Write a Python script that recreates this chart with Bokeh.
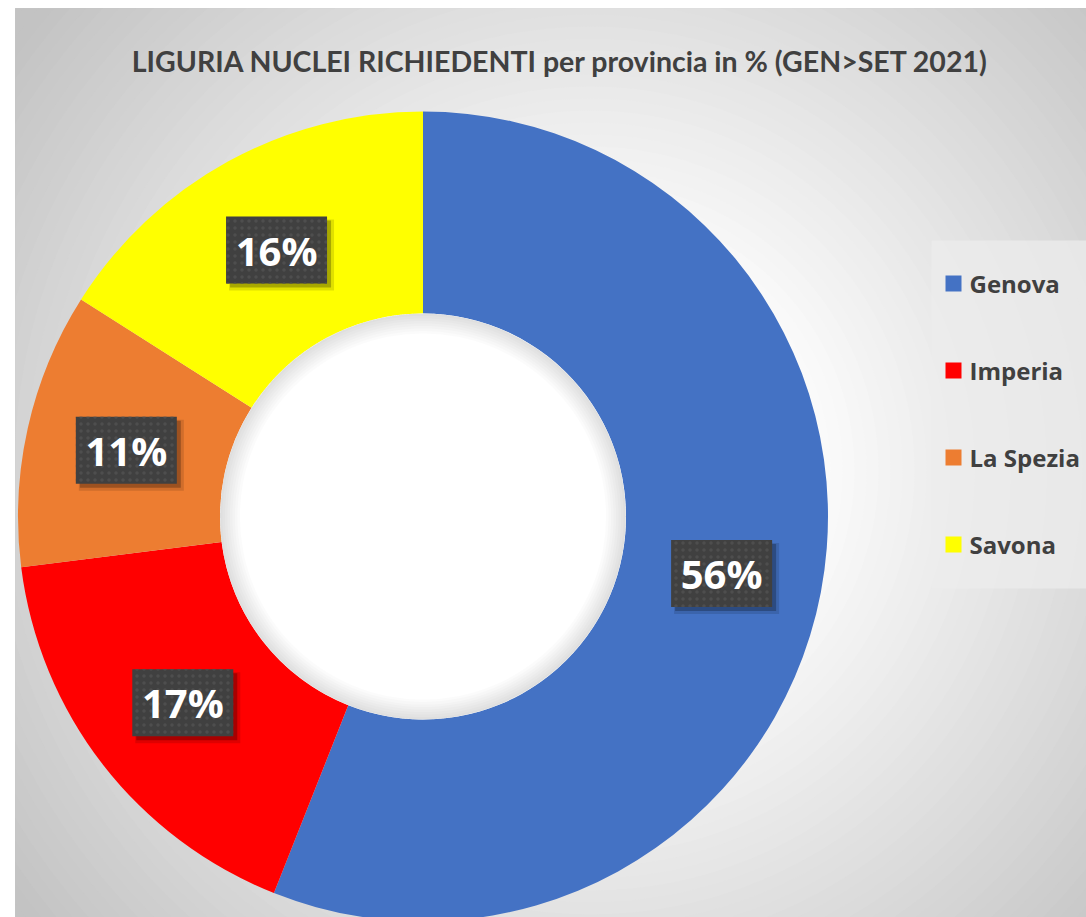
import numpy as np
from bokeh.plotting import figure
from bokeh.models import Range1d
from bokeh.core.properties import value
from bokeh.embed import file_html
from bokeh.resources import INLINE

# ---- data ----
provinces = ["Genova", "Imperia", "La Spezia", "Savona"]
percent = [56, 17, 11, 16]
colors = ["#4472C4", "#FF0000", "#ED7D31", "#FFFF00"]
title_text = "LIGURIA NUCLEI RICHIEDENTI per provincia in % (GEN>SET 2021)"

# ---- figure (1 data unit = 1 screen pixel, y = -page_y) ----
W, H = 1086, 917
X0, X1 = 15, 1086
Y0, Y1 = -917, -8

p = figure(width=W, height=H, output_backend="svg", toolbar_location=None,
           x_range=Range1d(X0, X1), y_range=Range1d(Y0, Y1),
           x_axis_location=None, y_axis_location=None,
           min_border_left=15, min_border_right=0, min_border_top=8, min_border_bottom=0,
           border_fill_color="white", background_fill_color="#c3c3c3",
           outline_line_color="#c8c8c8")
p.grid.visible = False

# ---- radial gradient background ----
gcx, gcy = 590, -470
radii = np.arange(780, 170, -12)
def shade(r):
    t = np.clip((r - 200) / 520.0, 0, 1)
    v = int(round(255 - t * 60))
    return "#%02x%02x%02x" % (v, v, v)
p.circle(x=[gcx] * len(radii), y=[gcy] * len(radii), radius=list(radii),
         fill_color=[shade(r) for r in radii], line_color=None)

# ---- donut ----
cx, cy = 422.5, -516
r_in, r_out = 203, 405
total = float(sum(percent))
cum = np.concatenate([[0], np.cumsum(percent)]) / total
start = np.pi / 2 - 2 * np.pi * cum[:-1]
end = np.pi / 2 - 2 * np.pi * cum[1:]
p.annular_wedge(x=cx, y=cy, inner_radius=r_in, outer_radius=r_out,
                start_angle=list(start), end_angle=list(end), direction="clock",
                fill_color=colors, line_color=None)

# hole with soft inner shadow
p.circle(x=[cx], y=[cy], radius=r_in, fill_color="white", line_color=None)
for k in range(1, 9):
    p.annulus(x=[cx], y=[cy], inner_radius=r_in - 2.5 * k, outer_radius=r_in,
              fill_color="black", fill_alpha=0.014, line_color=None)

# ---- data labels ----
mid = (cum[:-1] + cum[1:]) / 2
ang = np.pi / 2 - 2 * np.pi * mid
rm = (r_in + r_out) / 2
lx = cx + rm * np.cos(ang)
ly = cy + rm * np.sin(ang)
labels = ["%d%%" % v for v in percent]

bw, bh = 101, 67
p.rect(x=list(lx + 5), y=list(ly - 5), width=bw + 4, height=bh + 4,
       fill_color="black", fill_alpha=0.12, line_color=None)
p.rect(x=list(lx + 4), y=list(ly - 4), width=bw, height=bh,
       fill_color="black", fill_alpha=0.25, line_color=None)
p.rect(x=list(lx), y=list(ly), width=bw, height=bh,
       fill_color="#404040", line_color=None,
       hatch_pattern="dot", hatch_color="#4e4e4e", hatch_scale=7, hatch_weight=1)
p.text(x=list(lx), y=list(ly), text=labels, text_align="center",
       text_baseline="middle", y_offset=0,
       text_font=value("Open Sans"), text_font_style="bold",
       text_font_size="40px", text_color="white")

# ---- legend ----
p.rect(x=[1008.5], y=[-414], width=155, height=348,
       fill_color="#ececec", fill_alpha=0.75, line_color=None)
leg_y = [-(283 + 87 * i) for i in range(len(provinces))]
p.rect(x=[953] * len(provinces), y=leg_y, width=16, height=16,
       fill_color=colors, line_color=None)
p.text(x=[969] * len(provinces), y=leg_y, text=provinces,
       text_align="left", text_baseline="middle",
       text_font=value("Open Sans"), text_font_style="bold",
       text_font_size="24px", text_color="#404040")

# ---- title ----
p.text(x=[560], y=[-60], text=[title_text], text_align="center",
       text_baseline="alphabetic",
       text_font=value("Lato"), text_font_style="bold",
       text_font_size="28.5px", text_color="#404040")

open("out.html", "w").write(file_html(p, INLINE))
